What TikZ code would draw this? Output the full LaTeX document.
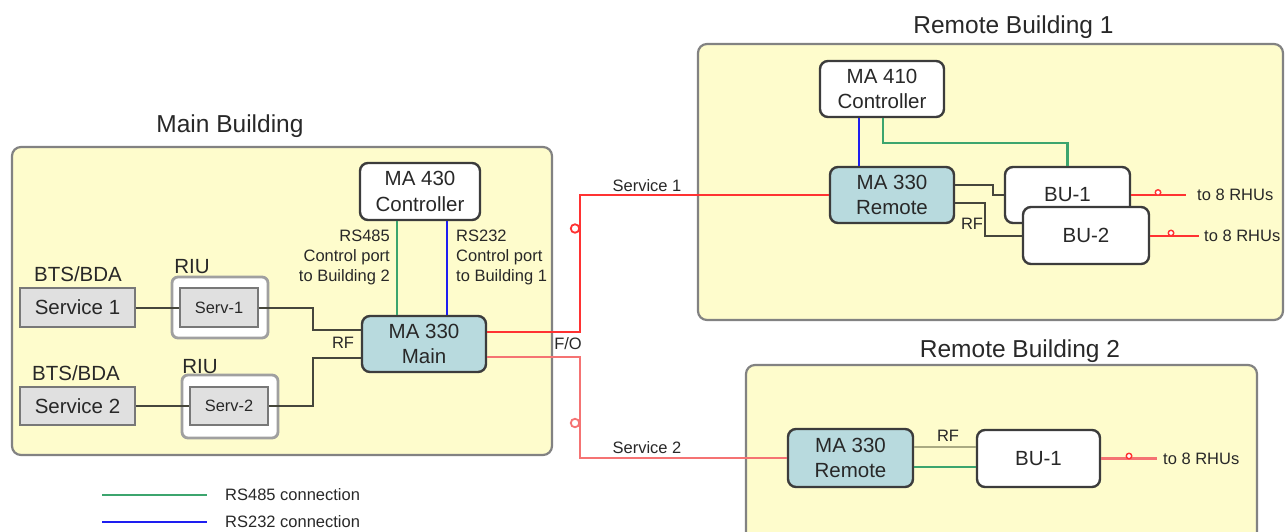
\documentclass[tikz,border=0pt]{standalone}
\usepackage{fontspec}
\setmainfont{Liberation Sans}
\usetikzlibrary{calc}
\definecolor{bldfill}{RGB}{254,252,204}
\definecolor{bldborder}{RGB}{130,130,130}
\definecolor{devborder}{RGB}{60,60,60}
\definecolor{mafill}{RGB}{184,218,222}
\definecolor{svcfill}{RGB}{224,224,224}
\definecolor{svcborder}{RGB}{120,120,120}
\definecolor{riuborder}{RGB}{160,160,160}
\definecolor{rfcol}{RGB}{70,70,60}
\definecolor{rflight}{RGB}{170,170,130}
\definecolor{grn}{RGB}{60,165,110}
\definecolor{blu}{RGB}{30,30,240}
\definecolor{redA}{RGB}{255,50,50}
\definecolor{redB}{RGB}{245,115,115}
\definecolor{txt}{RGB}{40,40,40}
\newcommand\fdev{\fontsize{20.5}{25.5}\selectfont}
\newcommand\flab{\fontsize{16.5}{20}\selectfont}
\newcommand\fttl{\fontsize{24.5}{29}\selectfont}
\newcommand\fserv{\fontsize{16.4}{20}\selectfont}
\begin{document}
\begin{tikzpicture}[x=1pt,y=-1pt,
  bld/.style={draw=bldborder, line width=2.2pt, fill=bldfill, rounded corners=9pt},
  dev/.style={draw=devborder, line width=2.4pt, rounded corners=8pt, align=center, inner sep=0pt, font=\fdev, text=txt},
  mabox/.style={dev, fill=mafill},
  wbox/.style={dev, fill=white},
  svc/.style={draw=svcborder, line width=1.8pt, fill=svcfill, inner sep=0pt, font=\fdev, text=txt},
  riu/.style={draw=riuborder, line width=2.8pt, fill=white, rounded corners=6pt, inner sep=0pt},
  lbl/.style={font=\flab, inner sep=0pt, text=txt},
  ttl/.style={font=\fttl, inner sep=0pt, text=txt},
  rfl/.style={draw=rfcol, line width=2pt},
  rfl2/.style={draw=rflight, line width=2.8pt},
  rsa/.style={draw=grn, line width=2.5pt},
  rsb/.style={draw=blu, line width=2.5pt},
  fo/.style={draw=redA, line width=2pt},
  fob/.style={draw=redB, line width=2.5pt},
  foc/.style={circle, draw=redA, fill=white, line width=1.8pt, minimum size=8.5pt, inner sep=0pt},
  rc/.style={circle, draw=redA, fill=white, line width=1.4pt, minimum size=5.5pt, inner sep=0pt}
]
\useasboundingbox (0,0) rectangle (1285,531);

% buildings
\node[bld, minimum width=540pt, minimum height=308pt] (mainb) at (282,301) {};
\node[bld, minimum width=585pt, minimum height=276pt] (rb1) at (990.5,182) {};
\node[bld, minimum width=511pt, minimum height=190pt] (rb2) at (1001.5,460) {};

\node[ttl, anchor=base] (tmain) at (230,132) {Main Building};
\node[ttl, anchor=base] (trb1) at (1013.5,33) {Remote Building 1};
\node[ttl, anchor=base] (trb2) at (1020,357) {Remote Building 2};

% main building devices
\node[wbox, minimum width=120pt, minimum height=57pt] (ma430) at (420,191.5) {MA 430\\Controller};
\node[mabox, minimum width=124pt, minimum height=56pt] (ma330m) at (424,344) {MA 330\\Main};
\node[svc, minimum width=115pt, minimum height=39pt] (svc1) at (77.5,307.5) {Service 1};
\node[riu, minimum width=96pt, minimum height=61pt] (riu1) at (220,307.5) {};
\node[svc, font=\fserv, minimum width=78pt, minimum height=39pt] (serv1) at (219,307.5) {Serv-1};
\node[svc, minimum width=115pt, minimum height=38pt] (svc2) at (77.5,406) {Service 2};
\node[riu, minimum width=96pt, minimum height=63pt] (riu2) at (230,406.5) {};
\node[svc, font=\fserv, minimum width=78pt, minimum height=38pt] (serv2) at (229,406) {Serv-2};

\node[ttl, font=\fdev] (bts1) at (78,274) {BTS/BDA};
\node[ttl, font=\fdev] (bts2) at (76,373) {BTS/BDA};
\node[ttl, font=\fdev] (riul1) at (192,267) {RIU};
\node[ttl, font=\fdev] (riul2) at (200,367) {RIU};

\node[lbl, anchor=east, align=right] (l485) at (390,257) {RS485\\Control port\\to Building 2};
\node[lbl, anchor=west, align=left] (l232) at (456,257) {RS232\\Control port\\to Building 1};
\node[lbl] (rfm) at (343,343) {RF};
\node[lbl] (fol) at (568,344) {F/O};
\node[lbl] (s1l) at (647,186) {Service 1};
\node[lbl] (s2l) at (647,447.5) {Service 2};

% remote building 1 devices
\node[wbox, minimum width=124pt, minimum height=56pt] (ma410) at (882,89) {MA 410\\Controller};
\node[mabox, minimum width=124pt, minimum height=56pt] (ma330r1) at (892,195) {MA 330\\Remote};
\node[wbox, minimum width=125pt, minimum height=56pt] (bu1) at (1067.5,195) {BU-1};
\node[wbox, minimum width=126pt, minimum height=57pt] (bu2) at (1086,235.5) {BU-2};
\node[lbl] (rfr1) at (972,224) {RF};

% remote building 2 devices
\node[mabox, minimum width=125pt, minimum height=58pt] (ma330r2) at (850.5,458) {MA 330\\Remote};
\node[wbox, minimum width=123pt, minimum height=57pt] (bu12) at (1038.5,458.5) {BU-1};
\node[lbl] (rfr2) at (948,436) {RF};

% helper coordinates
\coordinate (xg) at (397,0);
\coordinate (xb) at (447,0);
\coordinate (xj) at (313,0);
\coordinate (xf) at (580,0);
\coordinate (xb1) at (859,0);
\coordinate (xg1) at (883,0);
\coordinate (xr1) at (993,0);
\coordinate (xr2) at (985,0);
\coordinate (ya) at (0,330);
\coordinate (yb) at (0,358);
\coordinate (yc) at (0,332);
\coordinate (yd) at (0,357);
\coordinate (ye) at (0,143);
\coordinate (yf) at (0,185);
\coordinate (yg) at (0,203);
\coordinate (yh) at (0,447);
\coordinate (yi) at (0,467);

% main building connectors
\draw[rsa] (ma430.south -| xg) -- (ma330m.north -| xg);
\draw[rsb] (ma430.south -| xb) -- (ma330m.north -| xb);
\draw[rfl] (svc1.east) -- (serv1.west);
\draw[rfl] (svc2.east) -- (serv2.west);
\draw[rfl] (serv1.east) -- (serv1.east -| xj) |- (ma330m.west |- ya);
\draw[rfl] (serv2.east) -- (serv2.east -| xj) |- (ma330m.west |- yb);

% fibre links
\draw[fo] (ma330m.east |- yc) -- (xf |- yc) |- (ma330r1.west);
\draw[fob] (ma330m.east |- yd) -- (xf |- yd) |- (ma330r2.west);
\node[foc] (fc1) at (575,228.5) {};
\node[foc, draw=redB] (fc2) at (575,423) {};

% remote building 1 connectors
\draw[rsb] (ma410.south -| xb1) -- (ma330r1.north -| xb1);
\draw[rsa] (ma410.south -| xg1) |- (bu1.north |- ye) -- (bu1.north);
\draw[rfl] (ma330r1.east |- yf) -- (xr1 |- yf) |- (bu1.west);
\draw[rfl] (ma330r1.east |- yg) -- (xr2 |- yg) |- (bu2.west);

\coordinate (e1) at (1186,195);
\draw[fo] (bu1.east) -- (e1);
\node[rc] (rc1) at (1158,192.5) {};
\node[lbl, anchor=west] (t1) at (1197,195) {to 8 RHUs};

\coordinate (e2) at (1199,235.5);
\draw[fo] (bu2.east) -- (e2);
\node[rc] (rc2) at (1171,233) {};
\node[lbl, anchor=west] (t2) at (1204,235.5) {to 8 RHUs};

% remote building 2 connectors
\draw[rfl2] (ma330r2.east |- yh) -- (bu12.west |- yh);
\draw[rsa, line width=2.8pt] (ma330r2.east |- yi) -- (bu12.west |- yi);
\coordinate (e3) at (1157,458.5);
\draw[fob] (bu12.east) -- (e3);
\node[rc] (rc3) at (1129,456) {};
\node[lbl, anchor=west] (t3) at (1163,458.5) {to 8 RHUs};

% legend
\coordinate (lg1a) at (102,495);
\coordinate (lg1b) at (207,495);
\coordinate (lg2a) at (102,522);
\coordinate (lg2b) at (207,522);
\draw[rsa, line width=2.8pt] (lg1a) -- (lg1b);
\draw[rsb, line width=2.8pt] (lg2a) -- (lg2b);
\node[lbl, anchor=west] (lt1) at (225,495) {RS485 connection};
\node[lbl, anchor=west] (lt2) at (225,522) {RS232 connection};
\end{tikzpicture}
\end{document}
